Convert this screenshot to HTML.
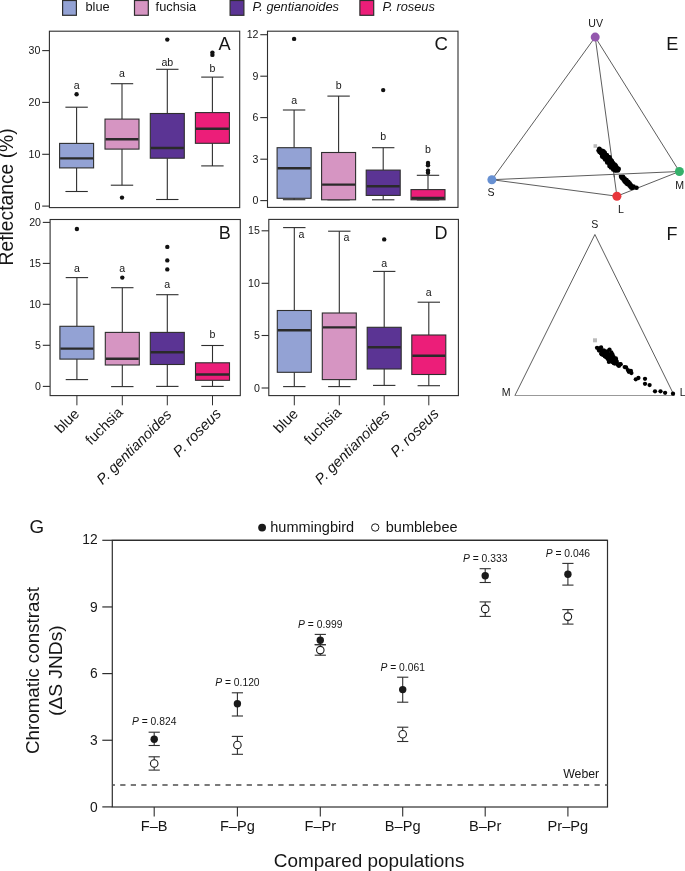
<!DOCTYPE html><html><head><meta charset="utf-8"><style>html,body{margin:0;padding:0;background:#fff;}svg{display:block;font-family:"Liberation Sans",sans-serif;will-change:transform;}</style></head><body>
<svg width="685" height="871" viewBox="0 0 685 871">
<rect width="685" height="871" fill="#fff"/>
<rect x="62.60" y="0.5" width="13.8" height="14.8" fill="#93a2d4" stroke="#2e2e2e" stroke-width="1.2"/>
<text x="85.50" y="11.30" font-size="12.8" text-anchor="start" fill="#161616" >blue</text>
<rect x="134.50" y="0.5" width="13.8" height="14.8" fill="#d695c2" stroke="#2e2e2e" stroke-width="1.2"/>
<text x="155.60" y="11.30" font-size="12.8" text-anchor="start" fill="#161616" >fuchsia</text>
<rect x="230.10" y="0.5" width="13.8" height="14.8" fill="#5b3494" stroke="#2e2e2e" stroke-width="1.2"/>
<text x="252.40" y="11.30" font-size="12.8" text-anchor="start" fill="#161616" font-style="italic">P. gentianoides</text>
<rect x="359.90" y="0.5" width="13.8" height="14.8" fill="#ec1e79" stroke="#2e2e2e" stroke-width="1.2"/>
<text x="382.40" y="11.30" font-size="12.8" text-anchor="start" fill="#161616" font-style="italic">P. roseus</text>
<rect x="49.40" y="31.20" width="190.30" height="176.40" fill="none" stroke="#2e2e2e" stroke-width="1.1"/>
<line x1="42.20" y1="50.60" x2="49.40" y2="50.60" stroke="#2e2e2e" stroke-width="1.1" />
<text x="40.40" y="54.10" font-size="10.6" text-anchor="end" fill="#161616" >30</text>
<line x1="42.20" y1="102.40" x2="49.40" y2="102.40" stroke="#2e2e2e" stroke-width="1.1" />
<text x="40.40" y="105.90" font-size="10.6" text-anchor="end" fill="#161616" >20</text>
<line x1="42.20" y1="154.30" x2="49.40" y2="154.30" stroke="#2e2e2e" stroke-width="1.1" />
<text x="40.40" y="157.80" font-size="10.6" text-anchor="end" fill="#161616" >10</text>
<line x1="42.20" y1="206.10" x2="49.40" y2="206.10" stroke="#2e2e2e" stroke-width="1.1" />
<text x="40.40" y="209.60" font-size="10.6" text-anchor="end" fill="#161616" >0</text>
<line x1="76.60" y1="107.20" x2="76.60" y2="143.40" stroke="#2e2e2e" stroke-width="1.1" />
<line x1="76.60" y1="167.90" x2="76.60" y2="191.50" stroke="#2e2e2e" stroke-width="1.1" />
<line x1="65.40" y1="107.20" x2="87.80" y2="107.20" stroke="#2e2e2e" stroke-width="1.1" />
<line x1="65.40" y1="191.50" x2="87.80" y2="191.50" stroke="#2e2e2e" stroke-width="1.1" />
<rect x="59.60" y="143.40" width="34.00" height="24.50" fill="#93a2d4" stroke="#2e2e2e" stroke-width="1.1"/>
<line x1="60.10" y1="158.40" x2="93.10" y2="158.40" stroke="#2a2a2a" stroke-width="2.4" />
<circle cx="76.60" cy="94.30" r="2.2" fill="#111"/>
<line x1="122.00" y1="83.70" x2="122.00" y2="119.10" stroke="#2e2e2e" stroke-width="1.1" />
<line x1="122.00" y1="149.10" x2="122.00" y2="185.20" stroke="#2e2e2e" stroke-width="1.1" />
<line x1="110.80" y1="83.70" x2="133.20" y2="83.70" stroke="#2e2e2e" stroke-width="1.1" />
<line x1="110.80" y1="185.20" x2="133.20" y2="185.20" stroke="#2e2e2e" stroke-width="1.1" />
<rect x="105.00" y="119.10" width="34.00" height="30.00" fill="#d695c2" stroke="#2e2e2e" stroke-width="1.1"/>
<line x1="105.50" y1="139.20" x2="138.50" y2="139.20" stroke="#2a2a2a" stroke-width="2.4" />
<circle cx="122.00" cy="197.60" r="2.2" fill="#111"/>
<line x1="167.30" y1="69.30" x2="167.30" y2="113.50" stroke="#2e2e2e" stroke-width="1.1" />
<line x1="167.30" y1="158.20" x2="167.30" y2="199.50" stroke="#2e2e2e" stroke-width="1.1" />
<line x1="156.10" y1="69.30" x2="178.50" y2="69.30" stroke="#2e2e2e" stroke-width="1.1" />
<line x1="156.10" y1="199.50" x2="178.50" y2="199.50" stroke="#2e2e2e" stroke-width="1.1" />
<rect x="150.30" y="113.50" width="34.00" height="44.70" fill="#5b3494" stroke="#2e2e2e" stroke-width="1.1"/>
<line x1="150.80" y1="148.00" x2="183.80" y2="148.00" stroke="#2a2a2a" stroke-width="2.4" />
<circle cx="167.30" cy="39.60" r="2.2" fill="#111"/>
<line x1="212.40" y1="77.10" x2="212.40" y2="112.60" stroke="#2e2e2e" stroke-width="1.1" />
<line x1="212.40" y1="143.30" x2="212.40" y2="165.90" stroke="#2e2e2e" stroke-width="1.1" />
<line x1="201.20" y1="77.10" x2="223.60" y2="77.10" stroke="#2e2e2e" stroke-width="1.1" />
<line x1="201.20" y1="165.90" x2="223.60" y2="165.90" stroke="#2e2e2e" stroke-width="1.1" />
<rect x="195.40" y="112.60" width="34.00" height="30.70" fill="#ec1e79" stroke="#2e2e2e" stroke-width="1.1"/>
<line x1="195.90" y1="128.70" x2="228.90" y2="128.70" stroke="#2a2a2a" stroke-width="2.4" />
<circle cx="212.40" cy="52.60" r="2.2" fill="#111"/>
<circle cx="212.40" cy="54.90" r="2.2" fill="#111"/>
<text x="76.60" y="88.60" font-size="10.6" text-anchor="middle" fill="#161616" >a</text>
<text x="122.00" y="77.30" font-size="10.6" text-anchor="middle" fill="#161616" >a</text>
<text x="167.30" y="65.80" font-size="10.6" text-anchor="middle" fill="#161616" >ab</text>
<text x="212.40" y="71.80" font-size="10.6" text-anchor="middle" fill="#161616" >b</text>
<text x="218.40" y="50.10" font-size="18.2" text-anchor="start" fill="#161616" >A</text>
<rect x="50.10" y="219.50" width="190.20" height="176.10" fill="none" stroke="#2e2e2e" stroke-width="1.1"/>
<line x1="42.80" y1="222.40" x2="50.00" y2="222.40" stroke="#2e2e2e" stroke-width="1.1" />
<text x="41.00" y="225.90" font-size="10.6" text-anchor="end" fill="#161616" >20</text>
<line x1="42.80" y1="263.40" x2="50.00" y2="263.40" stroke="#2e2e2e" stroke-width="1.1" />
<text x="41.00" y="266.90" font-size="10.6" text-anchor="end" fill="#161616" >15</text>
<line x1="42.80" y1="304.30" x2="50.00" y2="304.30" stroke="#2e2e2e" stroke-width="1.1" />
<text x="41.00" y="307.80" font-size="10.6" text-anchor="end" fill="#161616" >10</text>
<line x1="42.80" y1="345.30" x2="50.00" y2="345.30" stroke="#2e2e2e" stroke-width="1.1" />
<text x="41.00" y="348.80" font-size="10.6" text-anchor="end" fill="#161616" >5</text>
<line x1="42.80" y1="386.40" x2="50.00" y2="386.40" stroke="#2e2e2e" stroke-width="1.1" />
<text x="41.00" y="389.90" font-size="10.6" text-anchor="end" fill="#161616" >0</text>
<line x1="76.90" y1="277.60" x2="76.90" y2="326.30" stroke="#2e2e2e" stroke-width="1.1" />
<line x1="76.90" y1="359.10" x2="76.90" y2="379.60" stroke="#2e2e2e" stroke-width="1.1" />
<line x1="65.70" y1="277.60" x2="88.10" y2="277.60" stroke="#2e2e2e" stroke-width="1.1" />
<line x1="65.70" y1="379.60" x2="88.10" y2="379.60" stroke="#2e2e2e" stroke-width="1.1" />
<rect x="59.90" y="326.30" width="34.00" height="32.80" fill="#93a2d4" stroke="#2e2e2e" stroke-width="1.1"/>
<line x1="60.40" y1="348.60" x2="93.40" y2="348.60" stroke="#2a2a2a" stroke-width="2.4" />
<circle cx="76.90" cy="229.00" r="2.2" fill="#111"/>
<line x1="122.30" y1="287.70" x2="122.30" y2="332.40" stroke="#2e2e2e" stroke-width="1.1" />
<line x1="122.30" y1="365.00" x2="122.30" y2="386.60" stroke="#2e2e2e" stroke-width="1.1" />
<line x1="111.10" y1="287.70" x2="133.50" y2="287.70" stroke="#2e2e2e" stroke-width="1.1" />
<line x1="111.10" y1="386.60" x2="133.50" y2="386.60" stroke="#2e2e2e" stroke-width="1.1" />
<rect x="105.30" y="332.40" width="34.00" height="32.60" fill="#d695c2" stroke="#2e2e2e" stroke-width="1.1"/>
<line x1="105.80" y1="358.80" x2="138.80" y2="358.80" stroke="#2a2a2a" stroke-width="2.4" />
<circle cx="122.30" cy="277.60" r="2.2" fill="#111"/>
<line x1="167.30" y1="294.70" x2="167.30" y2="332.40" stroke="#2e2e2e" stroke-width="1.1" />
<line x1="167.30" y1="364.50" x2="167.30" y2="386.40" stroke="#2e2e2e" stroke-width="1.1" />
<line x1="156.10" y1="294.70" x2="178.50" y2="294.70" stroke="#2e2e2e" stroke-width="1.1" />
<line x1="156.10" y1="386.40" x2="178.50" y2="386.40" stroke="#2e2e2e" stroke-width="1.1" />
<rect x="150.30" y="332.40" width="34.00" height="32.10" fill="#5b3494" stroke="#2e2e2e" stroke-width="1.1"/>
<line x1="150.80" y1="352.30" x2="183.80" y2="352.30" stroke="#2a2a2a" stroke-width="2.4" />
<circle cx="167.30" cy="246.90" r="2.2" fill="#111"/>
<circle cx="167.30" cy="260.40" r="2.2" fill="#111"/>
<circle cx="167.30" cy="269.40" r="2.2" fill="#111"/>
<line x1="212.50" y1="345.50" x2="212.50" y2="362.80" stroke="#2e2e2e" stroke-width="1.1" />
<line x1="212.50" y1="380.30" x2="212.50" y2="386.40" stroke="#2e2e2e" stroke-width="1.1" />
<line x1="201.30" y1="345.50" x2="223.70" y2="345.50" stroke="#2e2e2e" stroke-width="1.1" />
<line x1="201.30" y1="386.40" x2="223.70" y2="386.40" stroke="#2e2e2e" stroke-width="1.1" />
<rect x="195.50" y="362.80" width="34.00" height="17.50" fill="#ec1e79" stroke="#2e2e2e" stroke-width="1.1"/>
<line x1="196.00" y1="374.50" x2="229.00" y2="374.50" stroke="#2a2a2a" stroke-width="2.4" />
<text x="76.90" y="272.30" font-size="10.6" text-anchor="middle" fill="#161616" >a</text>
<text x="122.30" y="272.30" font-size="10.6" text-anchor="middle" fill="#161616" >a</text>
<text x="167.30" y="287.80" font-size="10.6" text-anchor="middle" fill="#161616" >a</text>
<text x="212.50" y="338.30" font-size="10.6" text-anchor="middle" fill="#161616" >b</text>
<text x="218.80" y="238.80" font-size="18" text-anchor="start" fill="#161616" >B</text>
<line x1="76.90" y1="395.60" x2="76.90" y2="405.30" stroke="#2e2e2e" stroke-width="1.0" />
<line x1="122.30" y1="395.60" x2="122.30" y2="405.30" stroke="#2e2e2e" stroke-width="1.0" />
<line x1="167.30" y1="395.60" x2="167.30" y2="405.30" stroke="#2e2e2e" stroke-width="1.0" />
<line x1="212.50" y1="395.60" x2="212.50" y2="405.30" stroke="#2e2e2e" stroke-width="1.0" />
<rect x="267.50" y="31.20" width="190.50" height="176.20" fill="none" stroke="#2e2e2e" stroke-width="1.1"/>
<line x1="260.30" y1="34.70" x2="267.50" y2="34.70" stroke="#2e2e2e" stroke-width="1.1" />
<text x="258.50" y="38.20" font-size="10.6" text-anchor="end" fill="#161616" >12</text>
<line x1="260.30" y1="76.20" x2="267.50" y2="76.20" stroke="#2e2e2e" stroke-width="1.1" />
<text x="258.50" y="79.70" font-size="10.6" text-anchor="end" fill="#161616" >9</text>
<line x1="260.30" y1="117.60" x2="267.50" y2="117.60" stroke="#2e2e2e" stroke-width="1.1" />
<text x="258.50" y="121.10" font-size="10.6" text-anchor="end" fill="#161616" >6</text>
<line x1="260.30" y1="159.20" x2="267.50" y2="159.20" stroke="#2e2e2e" stroke-width="1.1" />
<text x="258.50" y="162.70" font-size="10.6" text-anchor="end" fill="#161616" >3</text>
<line x1="260.30" y1="200.60" x2="267.50" y2="200.60" stroke="#2e2e2e" stroke-width="1.1" />
<text x="258.50" y="204.10" font-size="10.6" text-anchor="end" fill="#161616" >0</text>
<line x1="294.10" y1="110.00" x2="294.10" y2="147.70" stroke="#2e2e2e" stroke-width="1.1" />
<line x1="294.10" y1="198.30" x2="294.10" y2="199.70" stroke="#2e2e2e" stroke-width="1.1" />
<line x1="282.90" y1="110.00" x2="305.30" y2="110.00" stroke="#2e2e2e" stroke-width="1.1" />
<line x1="282.90" y1="199.70" x2="305.30" y2="199.70" stroke="#2e2e2e" stroke-width="1.1" />
<rect x="277.10" y="147.70" width="34.00" height="50.60" fill="#93a2d4" stroke="#2e2e2e" stroke-width="1.1"/>
<line x1="277.60" y1="168.30" x2="310.60" y2="168.30" stroke="#2a2a2a" stroke-width="2.4" />
<circle cx="294.10" cy="38.90" r="2.2" fill="#111"/>
<line x1="338.60" y1="96.10" x2="338.60" y2="152.50" stroke="#2e2e2e" stroke-width="1.1" />
<line x1="338.60" y1="199.80" x2="338.60" y2="199.80" stroke="#2e2e2e" stroke-width="1.1" />
<line x1="327.40" y1="96.10" x2="349.80" y2="96.10" stroke="#2e2e2e" stroke-width="1.1" />
<line x1="327.40" y1="199.80" x2="349.80" y2="199.80" stroke="#2e2e2e" stroke-width="1.1" />
<rect x="321.60" y="152.50" width="34.00" height="47.30" fill="#d695c2" stroke="#2e2e2e" stroke-width="1.1"/>
<line x1="322.10" y1="184.60" x2="355.10" y2="184.60" stroke="#2a2a2a" stroke-width="2.4" />
<line x1="383.20" y1="147.70" x2="383.20" y2="170.10" stroke="#2e2e2e" stroke-width="1.1" />
<line x1="383.20" y1="195.40" x2="383.20" y2="199.80" stroke="#2e2e2e" stroke-width="1.1" />
<line x1="372.00" y1="147.70" x2="394.40" y2="147.70" stroke="#2e2e2e" stroke-width="1.1" />
<line x1="372.00" y1="199.80" x2="394.40" y2="199.80" stroke="#2e2e2e" stroke-width="1.1" />
<rect x="366.20" y="170.10" width="34.00" height="25.30" fill="#5b3494" stroke="#2e2e2e" stroke-width="1.1"/>
<line x1="366.70" y1="186.20" x2="399.70" y2="186.20" stroke="#2a2a2a" stroke-width="2.4" />
<circle cx="383.20" cy="90.10" r="2.2" fill="#111"/>
<line x1="428.00" y1="175.30" x2="428.00" y2="189.60" stroke="#2e2e2e" stroke-width="1.1" />
<line x1="428.00" y1="199.80" x2="428.00" y2="199.90" stroke="#2e2e2e" stroke-width="1.1" />
<line x1="416.80" y1="175.30" x2="439.20" y2="175.30" stroke="#2e2e2e" stroke-width="1.1" />
<line x1="416.80" y1="199.90" x2="439.20" y2="199.90" stroke="#2e2e2e" stroke-width="1.1" />
<rect x="411.00" y="189.60" width="34.00" height="10.20" fill="#ec1e79" stroke="#2e2e2e" stroke-width="1.1"/>
<line x1="411.50" y1="198.00" x2="444.50" y2="198.00" stroke="#2a2a2a" stroke-width="2.4" />
<circle cx="428.00" cy="163.00" r="2.2" fill="#111"/>
<circle cx="428.00" cy="165.30" r="2.2" fill="#111"/>
<circle cx="428.00" cy="170.60" r="2.2" fill="#111"/>
<circle cx="428.00" cy="172.80" r="2.2" fill="#111"/>
<text x="294.10" y="104.00" font-size="10.6" text-anchor="middle" fill="#161616" >a</text>
<text x="338.60" y="89.20" font-size="10.6" text-anchor="middle" fill="#161616" >b</text>
<text x="383.20" y="140.00" font-size="10.6" text-anchor="middle" fill="#161616" >b</text>
<text x="428.00" y="153.10" font-size="10.6" text-anchor="middle" fill="#161616" >b</text>
<text x="434.60" y="49.80" font-size="18.6" text-anchor="start" fill="#161616" >C</text>
<rect x="268.80" y="219.40" width="189.60" height="176.20" fill="none" stroke="#2e2e2e" stroke-width="1.1"/>
<line x1="261.60" y1="230.80" x2="268.80" y2="230.80" stroke="#2e2e2e" stroke-width="1.1" />
<text x="259.80" y="234.30" font-size="10.6" text-anchor="end" fill="#161616" >15</text>
<line x1="261.60" y1="283.30" x2="268.80" y2="283.30" stroke="#2e2e2e" stroke-width="1.1" />
<text x="259.80" y="286.80" font-size="10.6" text-anchor="end" fill="#161616" >10</text>
<line x1="261.60" y1="335.50" x2="268.80" y2="335.50" stroke="#2e2e2e" stroke-width="1.1" />
<text x="259.80" y="339.00" font-size="10.6" text-anchor="end" fill="#161616" >5</text>
<line x1="261.60" y1="388.00" x2="268.80" y2="388.00" stroke="#2e2e2e" stroke-width="1.1" />
<text x="259.80" y="391.50" font-size="10.6" text-anchor="end" fill="#161616" >0</text>
<line x1="294.30" y1="227.60" x2="294.30" y2="310.50" stroke="#2e2e2e" stroke-width="1.1" />
<line x1="294.30" y1="372.30" x2="294.30" y2="386.60" stroke="#2e2e2e" stroke-width="1.1" />
<line x1="283.10" y1="227.60" x2="305.50" y2="227.60" stroke="#2e2e2e" stroke-width="1.1" />
<line x1="283.10" y1="386.60" x2="305.50" y2="386.60" stroke="#2e2e2e" stroke-width="1.1" />
<rect x="277.30" y="310.50" width="34.00" height="61.80" fill="#93a2d4" stroke="#2e2e2e" stroke-width="1.1"/>
<line x1="277.80" y1="330.20" x2="310.80" y2="330.20" stroke="#2a2a2a" stroke-width="2.4" />
<line x1="339.30" y1="231.20" x2="339.30" y2="313.00" stroke="#2e2e2e" stroke-width="1.1" />
<line x1="339.30" y1="379.60" x2="339.30" y2="386.60" stroke="#2e2e2e" stroke-width="1.1" />
<line x1="328.10" y1="231.20" x2="350.50" y2="231.20" stroke="#2e2e2e" stroke-width="1.1" />
<line x1="328.10" y1="386.60" x2="350.50" y2="386.60" stroke="#2e2e2e" stroke-width="1.1" />
<rect x="322.30" y="313.00" width="34.00" height="66.60" fill="#d695c2" stroke="#2e2e2e" stroke-width="1.1"/>
<line x1="322.80" y1="327.40" x2="355.80" y2="327.40" stroke="#2a2a2a" stroke-width="2.4" />
<line x1="384.20" y1="271.40" x2="384.20" y2="327.30" stroke="#2e2e2e" stroke-width="1.1" />
<line x1="384.20" y1="369.00" x2="384.20" y2="385.40" stroke="#2e2e2e" stroke-width="1.1" />
<line x1="373.00" y1="271.40" x2="395.40" y2="271.40" stroke="#2e2e2e" stroke-width="1.1" />
<line x1="373.00" y1="385.40" x2="395.40" y2="385.40" stroke="#2e2e2e" stroke-width="1.1" />
<rect x="367.20" y="327.30" width="34.00" height="41.70" fill="#5b3494" stroke="#2e2e2e" stroke-width="1.1"/>
<line x1="367.70" y1="347.20" x2="400.70" y2="347.20" stroke="#2a2a2a" stroke-width="2.4" />
<circle cx="384.20" cy="239.40" r="2.2" fill="#111"/>
<line x1="428.80" y1="302.20" x2="428.80" y2="335.00" stroke="#2e2e2e" stroke-width="1.1" />
<line x1="428.80" y1="374.50" x2="428.80" y2="385.70" stroke="#2e2e2e" stroke-width="1.1" />
<line x1="417.60" y1="302.20" x2="440.00" y2="302.20" stroke="#2e2e2e" stroke-width="1.1" />
<line x1="417.60" y1="385.70" x2="440.00" y2="385.70" stroke="#2e2e2e" stroke-width="1.1" />
<rect x="411.80" y="335.00" width="34.00" height="39.50" fill="#ec1e79" stroke="#2e2e2e" stroke-width="1.1"/>
<line x1="412.30" y1="355.80" x2="445.30" y2="355.80" stroke="#2a2a2a" stroke-width="2.4" />
<text x="298.40" y="237.70" font-size="10.6" text-anchor="start" fill="#161616" >a</text>
<text x="343.60" y="241.30" font-size="10.6" text-anchor="start" fill="#161616" >a</text>
<text x="384.20" y="266.60" font-size="10.6" text-anchor="middle" fill="#161616" >a</text>
<text x="428.80" y="295.70" font-size="10.6" text-anchor="middle" fill="#161616" >a</text>
<text x="434.40" y="238.80" font-size="18" text-anchor="start" fill="#161616" >D</text>
<line x1="294.30" y1="395.60" x2="294.30" y2="405.30" stroke="#2e2e2e" stroke-width="1.0" />
<line x1="339.30" y1="395.60" x2="339.30" y2="405.30" stroke="#2e2e2e" stroke-width="1.0" />
<line x1="384.20" y1="395.60" x2="384.20" y2="405.30" stroke="#2e2e2e" stroke-width="1.0" />
<line x1="428.80" y1="395.60" x2="428.80" y2="405.30" stroke="#2e2e2e" stroke-width="1.0" />
<text transform="translate(80.10,414.70) rotate(-45)" font-size="14.5" text-anchor="end" fill="#161616">blue</text>
<text transform="translate(123.80,413.20) rotate(-45)" font-size="14.5" text-anchor="end" fill="#161616">fuchsia</text>
<text transform="translate(172.30,415.50) rotate(-45)" font-size="14.6" text-anchor="end" fill="#161616" font-style="italic">P. gentianoides</text>
<text transform="translate(222.00,414.60) rotate(-45)" font-size="14.9" text-anchor="end" fill="#161616" font-style="italic">P. roseus</text>
<text transform="translate(298.90,414.70) rotate(-45)" font-size="14.5" text-anchor="end" fill="#161616">blue</text>
<text transform="translate(342.20,413.20) rotate(-45)" font-size="14.5" text-anchor="end" fill="#161616">fuchsia</text>
<text transform="translate(390.60,415.50) rotate(-45)" font-size="14.6" text-anchor="end" fill="#161616" font-style="italic">P. gentianoides</text>
<text transform="translate(439.70,414.60) rotate(-45)" font-size="14.9" text-anchor="end" fill="#161616" font-style="italic">P. roseus</text>
<text transform="translate(13.4,196.9) rotate(-90)" font-size="19.3" text-anchor="middle" fill="#161616">Reflectance (%)</text>
<line x1="595.20" y1="37.10" x2="491.90" y2="179.70" stroke="#333" stroke-width="0.8" />
<line x1="595.20" y1="37.10" x2="679.40" y2="171.50" stroke="#333" stroke-width="0.8" />
<line x1="491.90" y1="179.70" x2="616.90" y2="196.20" stroke="#333" stroke-width="0.8" />
<line x1="616.90" y1="196.20" x2="679.40" y2="171.50" stroke="#333" stroke-width="0.8" />
<line x1="595.20" y1="37.10" x2="616.90" y2="196.20" stroke="#333" stroke-width="0.8" />
<rect x="593.5" y="144.2" width="3.6" height="3.6" fill="#bbb"/>
<circle cx="599.60" cy="149.40" r="2.3" fill="#000"/>
<circle cx="600.84" cy="150.87" r="2.3" fill="#000"/>
<circle cx="599.55" cy="151.97" r="2.3" fill="#000"/>
<circle cx="602.09" cy="152.34" r="2.3" fill="#000"/>
<circle cx="603.38" cy="151.24" r="2.3" fill="#000"/>
<circle cx="603.33" cy="153.81" r="2.3" fill="#000"/>
<circle cx="602.03" cy="154.92" r="2.3" fill="#000"/>
<circle cx="604.63" cy="152.71" r="2.3" fill="#000"/>
<circle cx="604.57" cy="155.29" r="2.3" fill="#000"/>
<circle cx="603.27" cy="156.39" r="2.3" fill="#000"/>
<circle cx="605.81" cy="156.76" r="2.3" fill="#000"/>
<circle cx="604.52" cy="157.86" r="2.3" fill="#000"/>
<circle cx="607.11" cy="155.65" r="2.3" fill="#000"/>
<circle cx="607.06" cy="158.23" r="2.3" fill="#000"/>
<circle cx="608.35" cy="157.13" r="2.3" fill="#000"/>
<circle cx="608.30" cy="159.70" r="2.3" fill="#000"/>
<circle cx="607.00" cy="160.80" r="2.3" fill="#000"/>
<circle cx="609.54" cy="161.17" r="2.3" fill="#000"/>
<circle cx="608.25" cy="162.27" r="2.3" fill="#000"/>
<circle cx="610.84" cy="160.07" r="2.3" fill="#000"/>
<circle cx="610.79" cy="162.64" r="2.3" fill="#000"/>
<circle cx="609.49" cy="163.75" r="2.3" fill="#000"/>
<circle cx="612.08" cy="161.54" r="2.3" fill="#000"/>
<circle cx="612.03" cy="164.11" r="2.3" fill="#000"/>
<circle cx="613.27" cy="165.59" r="2.3" fill="#000"/>
<circle cx="611.97" cy="166.69" r="2.3" fill="#000"/>
<circle cx="614.57" cy="164.48" r="2.3" fill="#000"/>
<circle cx="614.51" cy="167.06" r="2.3" fill="#000"/>
<circle cx="613.22" cy="168.16" r="2.3" fill="#000"/>
<circle cx="615.81" cy="165.95" r="2.3" fill="#000"/>
<circle cx="615.76" cy="168.53" r="2.3" fill="#000"/>
<circle cx="614.46" cy="169.63" r="2.3" fill="#000"/>
<circle cx="617.00" cy="170.00" r="2.3" fill="#000"/>
<circle cx="617.80" cy="170.50" r="2.3" fill="#000"/>
<circle cx="616.20" cy="171.20" r="2.3" fill="#000"/>
<circle cx="618.60" cy="168.80" r="2.3" fill="#000"/>
<circle cx="599.30" cy="148.90" r="2.3" fill="#000"/>
<circle cx="602.20" cy="150.80" r="2.3" fill="#000"/>
<circle cx="600.80" cy="153.00" r="2.3" fill="#000"/>
<circle cx="604.40" cy="152.60" r="2.3" fill="#000"/>
<circle cx="602.20" cy="156.60" r="2.3" fill="#000"/>
<circle cx="606.60" cy="155.10" r="2.3" fill="#000"/>
<circle cx="605.10" cy="159.50" r="2.3" fill="#000"/>
<circle cx="609.50" cy="157.30" r="2.3" fill="#000"/>
<circle cx="608.80" cy="160.20" r="2.3" fill="#000"/>
<circle cx="611.70" cy="161.00" r="2.3" fill="#000"/>
<circle cx="609.50" cy="166.10" r="2.3" fill="#000"/>
<circle cx="613.20" cy="163.20" r="2.3" fill="#000"/>
<circle cx="615.40" cy="165.40" r="2.3" fill="#000"/>
<circle cx="613.20" cy="169.40" r="2.3" fill="#000"/>
<circle cx="616.80" cy="167.50" r="2.3" fill="#000"/>
<circle cx="617.50" cy="170.80" r="2.3" fill="#000"/>
<circle cx="618.30" cy="169.40" r="2.3" fill="#000"/>
<circle cx="607.20" cy="162.50" r="2.3" fill="#000"/>
<circle cx="611.00" cy="167.50" r="2.3" fill="#000"/>
<circle cx="604.00" cy="157.50" r="2.3" fill="#000"/>
<circle cx="598.60" cy="150.50" r="2.3" fill="#000"/>
<circle cx="621.00" cy="175.90" r="2.3" fill="#000"/>
<circle cx="621.40" cy="177.20" r="2.3" fill="#000"/>
<circle cx="622.30" cy="178.30" r="2.3" fill="#000"/>
<circle cx="623.50" cy="179.60" r="2.3" fill="#000"/>
<circle cx="624.40" cy="181.10" r="2.3" fill="#000"/>
<circle cx="625.30" cy="182.00" r="2.3" fill="#000"/>
<circle cx="628.00" cy="181.70" r="2.3" fill="#000"/>
<circle cx="626.60" cy="183.40" r="2.3" fill="#000"/>
<circle cx="627.80" cy="184.30" r="2.3" fill="#000"/>
<circle cx="629.50" cy="185.50" r="2.3" fill="#000"/>
<circle cx="630.40" cy="186.60" r="2.3" fill="#000"/>
<circle cx="631.40" cy="187.80" r="2.3" fill="#000"/>
<circle cx="632.60" cy="187.70" r="2.3" fill="#000"/>
<circle cx="636.50" cy="187.70" r="2.3" fill="#000"/>
<circle cx="623.00" cy="176.80" r="2.3" fill="#000"/>
<circle cx="624.60" cy="178.60" r="2.3" fill="#000"/>
<circle cx="626.50" cy="180.00" r="2.3" fill="#000"/>
<circle cx="628.40" cy="182.00" r="2.3" fill="#000"/>
<circle cx="629.80" cy="183.60" r="2.3" fill="#000"/>
<circle cx="631.00" cy="185.20" r="2.3" fill="#000"/>
<circle cx="633.50" cy="186.50" r="2.3" fill="#000"/>
<circle cx="622.00" cy="176.00" r="2.3" fill="#000"/>
<line x1="606.00" y1="174.30" x2="626.00" y2="173.30" stroke="#fff" stroke-width="2.2" />
<line x1="491.90" y1="179.70" x2="679.40" y2="171.50" stroke="#333" stroke-width="0.8" />
<line x1="613.60" y1="172.00" x2="614.40" y2="177.50" stroke="#333" stroke-width="0.8" />
<circle cx="595.2" cy="37.1" r="4.5" fill="#9458ae"/>
<circle cx="491.9" cy="179.7" r="4.5" fill="#6790d2"/>
<circle cx="679.4" cy="171.5" r="4.5" fill="#35b06a"/>
<circle cx="616.9" cy="196.2" r="4.5" fill="#e8363c"/>
<text x="595.60" y="26.80" font-size="10.6" text-anchor="middle" fill="#161616" >UV</text>
<text x="491.10" y="196.10" font-size="10.6" text-anchor="middle" fill="#161616" >S</text>
<text x="679.60" y="189.00" font-size="10.6" text-anchor="middle" fill="#161616" >M</text>
<text x="621.00" y="213.40" font-size="10.6" text-anchor="middle" fill="#161616" >L</text>
<text x="666.30" y="50.30" font-size="18.2" text-anchor="start" fill="#161616" >E</text>
<line x1="514.90" y1="395.50" x2="674.20" y2="395.50" stroke="#999" stroke-width="1.0" />
<line x1="594.90" y1="234.50" x2="514.90" y2="395.50" stroke="#333" stroke-width="0.8" />
<line x1="594.90" y1="234.50" x2="674.20" y2="395.50" stroke="#333" stroke-width="0.8" />
<rect x="593" y="338.3" width="4" height="4" fill="#bbb"/>
<circle cx="597.00" cy="347.80" r="2.15" fill="#000"/>
<circle cx="601.10" cy="347.50" r="2.15" fill="#000"/>
<circle cx="599.00" cy="350.50" r="2.15" fill="#000"/>
<circle cx="601.60" cy="354.30" r="2.15" fill="#000"/>
<circle cx="604.30" cy="351.30" r="2.15" fill="#000"/>
<circle cx="605.10" cy="356.60" r="2.15" fill="#000"/>
<circle cx="609.50" cy="349.60" r="2.15" fill="#000"/>
<circle cx="611.30" cy="352.50" r="2.15" fill="#000"/>
<circle cx="612.40" cy="354.30" r="2.15" fill="#000"/>
<circle cx="608.90" cy="361.90" r="2.15" fill="#000"/>
<circle cx="609.50" cy="356.60" r="2.15" fill="#000"/>
<circle cx="607.80" cy="358.90" r="2.15" fill="#000"/>
<circle cx="615.90" cy="358.40" r="2.15" fill="#000"/>
<circle cx="616.50" cy="361.30" r="2.15" fill="#000"/>
<circle cx="614.80" cy="363.60" r="2.15" fill="#000"/>
<circle cx="618.90" cy="365.90" r="2.15" fill="#000"/>
<circle cx="620.60" cy="364.20" r="2.15" fill="#000"/>
<circle cx="617.70" cy="364.80" r="2.15" fill="#000"/>
<circle cx="612.40" cy="359.50" r="2.15" fill="#000"/>
<circle cx="606.60" cy="353.70" r="2.15" fill="#000"/>
<circle cx="603.70" cy="354.80" r="2.15" fill="#000"/>
<circle cx="610.50" cy="355.00" r="2.15" fill="#000"/>
<circle cx="613.50" cy="357.00" r="2.15" fill="#000"/>
<circle cx="607.50" cy="351.50" r="2.15" fill="#000"/>
<circle cx="602.50" cy="351.00" r="2.15" fill="#000"/>
<circle cx="599.50" cy="348.50" r="2.15" fill="#000"/>
<circle cx="620.40" cy="364.40" r="2.15" fill="#000"/>
<circle cx="624.70" cy="367.10" r="2.15" fill="#000"/>
<circle cx="626.10" cy="367.40" r="2.15" fill="#000"/>
<circle cx="627.90" cy="370.10" r="2.15" fill="#000"/>
<circle cx="628.80" cy="371.80" r="2.15" fill="#000"/>
<circle cx="630.90" cy="370.90" r="2.15" fill="#000"/>
<circle cx="631.40" cy="373.10" r="2.15" fill="#000"/>
<circle cx="635.80" cy="379.30" r="2.15" fill="#000"/>
<circle cx="638.40" cy="378.00" r="2.15" fill="#000"/>
<circle cx="645.00" cy="378.80" r="2.15" fill="#000"/>
<circle cx="645.00" cy="383.80" r="2.15" fill="#000"/>
<circle cx="649.60" cy="385.10" r="2.15" fill="#000"/>
<circle cx="655.00" cy="391.30" r="2.15" fill="#000"/>
<circle cx="660.50" cy="391.30" r="2.15" fill="#000"/>
<circle cx="665.10" cy="392.80" r="2.15" fill="#000"/>
<circle cx="673.00" cy="393.70" r="2.15" fill="#000"/>
<circle cx="599.00" cy="349.00" r="2.15" fill="#000"/>
<circle cx="600.77" cy="350.41" r="2.15" fill="#000"/>
<circle cx="602.55" cy="351.82" r="2.15" fill="#000"/>
<circle cx="603.75" cy="350.32" r="2.15" fill="#000"/>
<circle cx="601.35" cy="353.32" r="2.15" fill="#000"/>
<circle cx="604.32" cy="353.23" r="2.15" fill="#000"/>
<circle cx="605.52" cy="351.73" r="2.15" fill="#000"/>
<circle cx="603.12" cy="354.73" r="2.15" fill="#000"/>
<circle cx="606.09" cy="354.64" r="2.15" fill="#000"/>
<circle cx="607.29" cy="353.14" r="2.15" fill="#000"/>
<circle cx="604.89" cy="356.14" r="2.15" fill="#000"/>
<circle cx="607.86" cy="356.05" r="2.15" fill="#000"/>
<circle cx="609.06" cy="354.55" r="2.15" fill="#000"/>
<circle cx="606.66" cy="357.55" r="2.15" fill="#000"/>
<circle cx="609.64" cy="357.45" r="2.15" fill="#000"/>
<circle cx="610.84" cy="355.95" r="2.15" fill="#000"/>
<circle cx="608.44" cy="358.95" r="2.15" fill="#000"/>
<circle cx="611.41" cy="358.86" r="2.15" fill="#000"/>
<circle cx="612.61" cy="357.36" r="2.15" fill="#000"/>
<circle cx="610.21" cy="360.36" r="2.15" fill="#000"/>
<circle cx="613.18" cy="360.27" r="2.15" fill="#000"/>
<circle cx="614.38" cy="358.77" r="2.15" fill="#000"/>
<circle cx="611.98" cy="361.77" r="2.15" fill="#000"/>
<circle cx="614.95" cy="361.68" r="2.15" fill="#000"/>
<circle cx="616.15" cy="360.18" r="2.15" fill="#000"/>
<circle cx="613.75" cy="363.18" r="2.15" fill="#000"/>
<circle cx="616.73" cy="363.09" r="2.15" fill="#000"/>
<circle cx="618.50" cy="364.50" r="2.15" fill="#000"/>
<text x="594.90" y="227.60" font-size="10.6" text-anchor="middle" fill="#161616" >S</text>
<text x="506.10" y="396.20" font-size="10.6" text-anchor="middle" fill="#161616" >M</text>
<text x="679.70" y="396.20" font-size="10.6" text-anchor="start" fill="#161616" >L</text>
<text x="666.50" y="239.80" font-size="18" text-anchor="start" fill="#161616" >F</text>
<line x1="112.3" y1="540.3" x2="607.5" y2="540.3" stroke="#2e2e2e" stroke-width="1.2"/>
<rect x="112.30" y="540.30" width="495.20" height="266.70" fill="none" stroke="#2e2e2e" stroke-width="1.2"/>
<line x1="102.30" y1="806.90" x2="112.30" y2="806.90" stroke="#2e2e2e" stroke-width="1.2" />
<text x="97.70" y="811.50" font-size="13.8" text-anchor="end" fill="#161616" >0</text>
<line x1="102.30" y1="740.25" x2="112.30" y2="740.25" stroke="#2e2e2e" stroke-width="1.2" />
<text x="97.70" y="744.85" font-size="13.8" text-anchor="end" fill="#161616" >3</text>
<line x1="102.30" y1="673.60" x2="112.30" y2="673.60" stroke="#2e2e2e" stroke-width="1.2" />
<text x="97.70" y="678.20" font-size="13.8" text-anchor="end" fill="#161616" >6</text>
<line x1="102.30" y1="606.95" x2="112.30" y2="606.95" stroke="#2e2e2e" stroke-width="1.2" />
<text x="97.70" y="611.55" font-size="13.8" text-anchor="end" fill="#161616" >9</text>
<line x1="102.30" y1="540.30" x2="112.30" y2="540.30" stroke="#2e2e2e" stroke-width="1.2" />
<text x="97.70" y="544.10" font-size="13.8" text-anchor="end" fill="#161616" >12</text>
<line x1="112.3" y1="784.9" x2="607.5" y2="784.9" stroke="#4d4d4d" stroke-width="1.5" stroke-dasharray="5.27 5.27" stroke-dashoffset="2.64"/>
<text x="599.20" y="777.90" font-size="12.3" text-anchor="end" fill="#161616" >Weber</text>
<line x1="154.20" y1="807.00" x2="154.20" y2="816.40" stroke="#2e2e2e" stroke-width="1.1" />
<text x="154.20" y="831.40" font-size="14.6" text-anchor="middle" fill="#161616" >F–B</text>
<line x1="237.40" y1="807.00" x2="237.40" y2="816.40" stroke="#2e2e2e" stroke-width="1.1" />
<text x="237.40" y="831.40" font-size="14.6" text-anchor="middle" fill="#161616" >F–Pg</text>
<line x1="320.30" y1="807.00" x2="320.30" y2="816.40" stroke="#2e2e2e" stroke-width="1.1" />
<text x="320.30" y="831.40" font-size="14.6" text-anchor="middle" fill="#161616" >F–Pr</text>
<line x1="402.70" y1="807.00" x2="402.70" y2="816.40" stroke="#2e2e2e" stroke-width="1.1" />
<text x="402.70" y="831.40" font-size="14.6" text-anchor="middle" fill="#161616" >B–Pg</text>
<line x1="485.20" y1="807.00" x2="485.20" y2="816.40" stroke="#2e2e2e" stroke-width="1.1" />
<text x="485.20" y="831.40" font-size="14.6" text-anchor="middle" fill="#161616" >B–Pr</text>
<line x1="567.90" y1="807.00" x2="567.90" y2="816.40" stroke="#2e2e2e" stroke-width="1.1" />
<text x="567.90" y="831.40" font-size="14.6" text-anchor="middle" fill="#161616" >Pr–Pg</text>
<line x1="154.20" y1="756.80" x2="154.20" y2="770.10" stroke="#2e2e2e" stroke-width="1.1" />
<line x1="148.60" y1="756.80" x2="159.80" y2="756.80" stroke="#2e2e2e" stroke-width="1.1" />
<line x1="148.60" y1="770.10" x2="159.80" y2="770.10" stroke="#2e2e2e" stroke-width="1.1" />
<circle cx="154.2" cy="763.5" r="3.75" fill="#fff" stroke="#1a1a1a" stroke-width="1.1"/>
<line x1="154.20" y1="732.20" x2="154.20" y2="745.50" stroke="#2e2e2e" stroke-width="1.1" />
<line x1="148.60" y1="732.20" x2="159.80" y2="732.20" stroke="#2e2e2e" stroke-width="1.1" />
<line x1="148.60" y1="745.50" x2="159.80" y2="745.50" stroke="#2e2e2e" stroke-width="1.1" />
<circle cx="154.2" cy="739.2" r="3.7" fill="#1a1a1a"/>
<text x="154.20" y="725.20" font-size="10.3" text-anchor="middle" fill="#161616"><tspan font-style="italic">P</tspan> = 0.824</text>
<line x1="237.40" y1="736.40" x2="237.40" y2="754.30" stroke="#2e2e2e" stroke-width="1.1" />
<line x1="231.80" y1="736.40" x2="243.00" y2="736.40" stroke="#2e2e2e" stroke-width="1.1" />
<line x1="231.80" y1="754.30" x2="243.00" y2="754.30" stroke="#2e2e2e" stroke-width="1.1" />
<circle cx="237.4" cy="745.0" r="3.75" fill="#fff" stroke="#1a1a1a" stroke-width="1.1"/>
<line x1="237.40" y1="692.80" x2="237.40" y2="716.00" stroke="#2e2e2e" stroke-width="1.1" />
<line x1="231.80" y1="692.80" x2="243.00" y2="692.80" stroke="#2e2e2e" stroke-width="1.1" />
<line x1="231.80" y1="716.00" x2="243.00" y2="716.00" stroke="#2e2e2e" stroke-width="1.1" />
<circle cx="237.4" cy="703.8" r="3.7" fill="#1a1a1a"/>
<text x="237.40" y="686.30" font-size="10.3" text-anchor="middle" fill="#161616"><tspan font-style="italic">P</tspan> = 0.120</text>
<line x1="320.30" y1="644.70" x2="320.30" y2="655.20" stroke="#2e2e2e" stroke-width="1.1" />
<line x1="314.70" y1="644.70" x2="325.90" y2="644.70" stroke="#2e2e2e" stroke-width="1.1" />
<line x1="314.70" y1="655.20" x2="325.90" y2="655.20" stroke="#2e2e2e" stroke-width="1.1" />
<circle cx="320.3" cy="650.1" r="3.75" fill="#fff" stroke="#1a1a1a" stroke-width="1.1"/>
<line x1="320.30" y1="634.40" x2="320.30" y2="644.70" stroke="#2e2e2e" stroke-width="1.1" />
<line x1="314.70" y1="634.40" x2="325.90" y2="634.40" stroke="#2e2e2e" stroke-width="1.1" />
<line x1="314.70" y1="644.70" x2="325.90" y2="644.70" stroke="#2e2e2e" stroke-width="1.1" />
<circle cx="320.3" cy="640.3" r="3.7" fill="#1a1a1a"/>
<text x="320.30" y="627.90" font-size="10.3" text-anchor="middle" fill="#161616"><tspan font-style="italic">P</tspan> = 0.999</text>
<line x1="402.70" y1="727.20" x2="402.70" y2="741.50" stroke="#2e2e2e" stroke-width="1.1" />
<line x1="397.10" y1="727.20" x2="408.30" y2="727.20" stroke="#2e2e2e" stroke-width="1.1" />
<line x1="397.10" y1="741.50" x2="408.30" y2="741.50" stroke="#2e2e2e" stroke-width="1.1" />
<circle cx="402.7" cy="734.3" r="3.75" fill="#fff" stroke="#1a1a1a" stroke-width="1.1"/>
<line x1="402.70" y1="677.20" x2="402.70" y2="702.20" stroke="#2e2e2e" stroke-width="1.1" />
<line x1="397.10" y1="677.20" x2="408.30" y2="677.20" stroke="#2e2e2e" stroke-width="1.1" />
<line x1="397.10" y1="702.20" x2="408.30" y2="702.20" stroke="#2e2e2e" stroke-width="1.1" />
<circle cx="402.7" cy="689.6" r="3.7" fill="#1a1a1a"/>
<text x="402.70" y="671.00" font-size="10.3" text-anchor="middle" fill="#161616"><tspan font-style="italic">P</tspan> = 0.061</text>
<line x1="485.20" y1="601.90" x2="485.20" y2="616.40" stroke="#2e2e2e" stroke-width="1.1" />
<line x1="479.60" y1="601.90" x2="490.80" y2="601.90" stroke="#2e2e2e" stroke-width="1.1" />
<line x1="479.60" y1="616.40" x2="490.80" y2="616.40" stroke="#2e2e2e" stroke-width="1.1" />
<circle cx="485.2" cy="608.9" r="3.75" fill="#fff" stroke="#1a1a1a" stroke-width="1.1"/>
<line x1="485.20" y1="568.70" x2="485.20" y2="582.50" stroke="#2e2e2e" stroke-width="1.1" />
<line x1="479.60" y1="568.70" x2="490.80" y2="568.70" stroke="#2e2e2e" stroke-width="1.1" />
<line x1="479.60" y1="582.50" x2="490.80" y2="582.50" stroke="#2e2e2e" stroke-width="1.1" />
<circle cx="485.2" cy="575.7" r="3.7" fill="#1a1a1a"/>
<text x="485.20" y="562.20" font-size="10.3" text-anchor="middle" fill="#161616"><tspan font-style="italic">P</tspan> = 0.333</text>
<line x1="567.90" y1="609.60" x2="567.90" y2="624.10" stroke="#2e2e2e" stroke-width="1.1" />
<line x1="562.30" y1="609.60" x2="573.50" y2="609.60" stroke="#2e2e2e" stroke-width="1.1" />
<line x1="562.30" y1="624.10" x2="573.50" y2="624.10" stroke="#2e2e2e" stroke-width="1.1" />
<circle cx="567.9" cy="616.6" r="3.75" fill="#fff" stroke="#1a1a1a" stroke-width="1.1"/>
<line x1="567.90" y1="563.40" x2="567.90" y2="585.10" stroke="#2e2e2e" stroke-width="1.1" />
<line x1="562.30" y1="563.40" x2="573.50" y2="563.40" stroke="#2e2e2e" stroke-width="1.1" />
<line x1="562.30" y1="585.10" x2="573.50" y2="585.10" stroke="#2e2e2e" stroke-width="1.1" />
<circle cx="567.9" cy="574.3" r="3.7" fill="#1a1a1a"/>
<text x="567.90" y="556.80" font-size="10.3" text-anchor="middle" fill="#161616"><tspan font-style="italic">P</tspan> = 0.046</text>
<circle cx="262.1" cy="527.6" r="3.9" fill="#1a1a1a"/>
<text x="270.30" y="531.80" font-size="14.5" text-anchor="start" fill="#161616" >hummingbird</text>
<circle cx="375.2" cy="527.5" r="3.7" fill="#fff" stroke="#1a1a1a" stroke-width="1.0"/>
<text x="385.80" y="531.80" font-size="14.5" text-anchor="start" fill="#161616" >bumblebee</text>
<text x="29.60" y="533.00" font-size="18.8" text-anchor="start" fill="#161616" >G</text>
<text transform="translate(38.7,670.5) rotate(-90)" font-size="18.8" text-anchor="middle" fill="#161616">Chromatic constrast</text>
<text transform="translate(61.7,670.7) rotate(-90)" font-size="19.2" text-anchor="middle" fill="#161616">(ΔS JNDs)</text>
<text x="369.10" y="866.50" font-size="18.95" text-anchor="middle" fill="#161616" >Compared populations</text>
</svg></body></html>
